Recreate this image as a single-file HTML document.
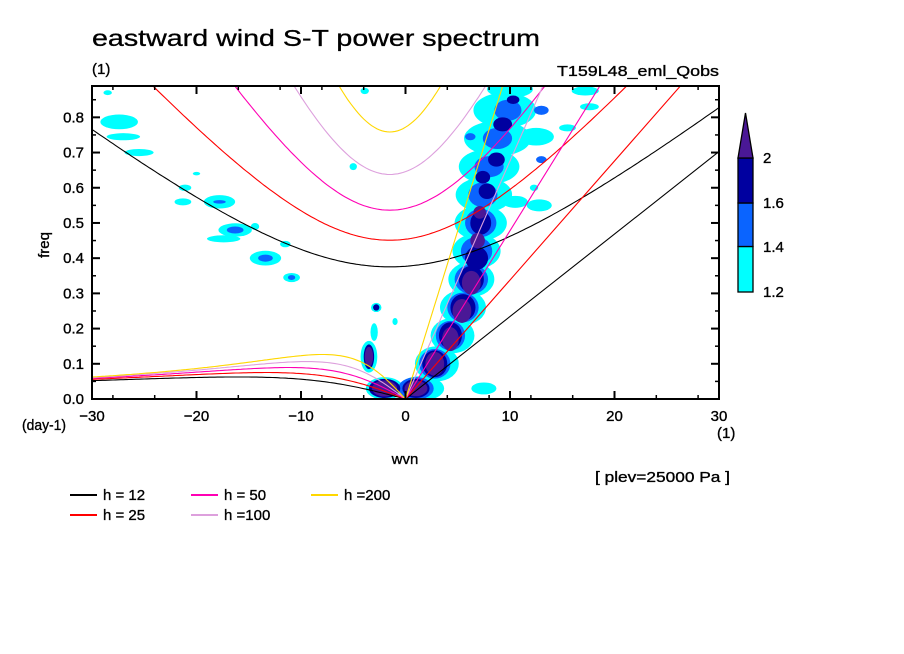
<!DOCTYPE html>
<html><head><meta charset="utf-8">
<style>
html,body{margin:0;padding:0;background:#fff;}
svg{display:block;font-family:"Liberation Sans",sans-serif;}
.t{font-size:15px;fill:#000;stroke:#000;stroke-width:0.35;}
</style></head>
<body>
<svg id="chart" width="904" height="654" viewBox="0 0 904 654" xmlns="http://www.w3.org/2000/svg">
<rect width="904" height="654" fill="#fff"/>
<text x="92" y="46" font-size="23" textLength="448" lengthAdjust="spacingAndGlyphs" fill="#000" stroke="#000" stroke-width="0.3">eastward wind S-T power spectrum</text>
<text class="t" x="92" y="74">(1)</text>
<text class="t" x="719" y="76" text-anchor="end" textLength="162" lengthAdjust="spacingAndGlyphs">T159L48_eml_Qobs</text>
<defs><clipPath id="plotclip"><rect x="92" y="86" width="627" height="313"/></clipPath></defs>
<g id="blobs" clip-path="url(#plotclip)"></g>
<g id="curves" clip-path="url(#plotclip)"></g>
<g id="axes"></g>
<text class="t" font-size="17" transform="translate(49,245) rotate(-90)" text-anchor="middle">freq</text>
<text class="t" x="22" y="430" textLength="44" lengthAdjust="spacingAndGlyphs">(day-1)</text>
<text class="t" x="717" y="438">(1)</text>
<text class="t" font-size="17" x="405" y="464" text-anchor="middle">wvn</text>
<text class="t" font-size="13" x="595" y="482" textLength="135" lengthAdjust="spacingAndGlyphs">[ plev=25000 Pa ]</text>
<g id="legend"></g>
<g id="colorbar"></g>
</svg>
<script>
const NS="http://www.w3.org/2000/svg";
// ---- data ----
const xTicks=[-30,-20,-10,0,10,20,30];
const yTicks=[0.0,0.1,0.2,0.3,0.4,0.5,0.6,0.7,0.8];
const yTickLabels=["0.0","0.1","0.2","0.3","0.4","0.5","0.6","0.7","0.8"];
const depths=[12,25,50,100,200];
const depthColors=["#000000","#ff0000","#ff00b4","#dda0dd","#ffd700"];
const depthLabels=["h = 12","h = 25","h = 50","h =100","h =200"];
const levelColors=["#00ffff","#0a64ff","#0000a0","#4a1896"];
const levelLabels=["1.2","1.4","1.6","2"];
// blob data: wavenumber, frequency, half-width (wvn), half-height (freq), level
const blobK=[1.5,3,4.5,5.5,6.3,6.8,7.2,7.5,8,8.8,9.5,10,12.5,12.8,10.5,15.5,17.6,17.2,12.3,7.5,
 -2,-3.5,-3,-2.8,-1,-27.4,-27,-25.5,-17.8,-16.3,-13.4,-10.9,-17.4,-21.1,-21.3,-14.4,-11.5,-5,-3.9,-28.5,-20,
 1,2.8,4.3,5.5,6.3,6.8,7.2,7.4,8,8.8,9.8,13,13,6.2,-17.8,-16.3,-13.4,-10.9,
 1,2.8,4.3,5.5,6.3,6.8,7.2,7.8,7.4,8.7,9.3,10.3,-2,-3.5,-2.8,
 1,2.8,4.3,5.4,6.3,6.9,7.1,-2,-3.5];
const blobF=[0.03,0.1,0.18,0.26,0.34,0.42,0.5,0.58,0.66,0.74,0.82,0.88,0.745,0.55,0.56,0.77,0.83,0.875,0.6,0.03,
 0.03,0.12,0.19,0.26,0.22,0.787,0.745,0.70,0.56,0.48,0.40,0.345,0.455,0.60,0.56,0.49,0.44,0.66,0.875,0.87,0.64,
 0.03,0.1,0.18,0.26,0.34,0.42,0.5,0.58,0.66,0.74,0.82,0.82,0.68,0.745,0.56,0.48,0.40,0.345,
 0.03,0.1,0.18,0.26,0.34,0.4,0.5,0.59,0.63,0.68,0.78,0.85,0.03,0.12,0.26,
 0.03,0.1,0.17,0.25,0.33,0.45,0.53,0.03,0.12];
const blobRx=[2.2,2.1,2.1,2.2,2.2,2.3,2.5,2.7,2.9,3.2,3,2.2,1.7,1.2,1.2,0.8,0.9,1.3,0.4,1.2,
 1.8,0.8,0.35,0.5,0.25,1.8,1.6,1.4,1.5,1.6,1.5,0.8,1.6,0.6,0.8,0.4,0.5,0.35,0.4,0.4,0.35,
 1.7,1.5,1.4,1.5,1.6,1.5,1.5,1.4,1.4,1.4,1.3,0.7,0.5,0.5,0.6,0.8,0.7,0.35,
 1.3,1.2,1.1,1.2,1.2,1.1,1.0,0.8,0.7,0.8,0.9,0.6,1.5,0.5,0.3,
 1.1,0.9,0.8,0.9,0.9,0.7,0.6,1.2,0.4];
const blobRy=[0.035,0.05,0.05,0.05,0.05,0.05,0.05,0.05,0.05,0.05,0.05,0.025,0.025,0.017,0.017,0.01,0.01,0.013,0.009,0.017,
 0.032,0.045,0.025,0.013,0.01,0.021,0.01,0.01,0.019,0.019,0.021,0.013,0.01,0.009,0.01,0.01,0.009,0.01,0.009,0.007,0.005,
 0.032,0.042,0.042,0.042,0.042,0.04,0.04,0.035,0.03,0.03,0.03,0.013,0.01,0.01,0.005,0.01,0.01,0.007,
 0.027,0.038,0.038,0.038,0.038,0.033,0.033,0.022,0.018,0.02,0.02,0.012,0.027,0.035,0.009,
 0.022,0.034,0.034,0.034,0.034,0.022,0.018,0.023,0.028];
const blobLevel=[1,1,1,1,1,1,1,1,1,1,1,1,1,1,1,1,1,1,1,1,
 1,1,1,1,1,1,1,1,1,1,1,1,1,1,1,1,1,1,1,1,1,
 2,2,2,2,2,2,2,2,2,2,2,2,2,2,2,2,2,2,
 3,3,3,3,3,3,3,3,3,3,3,3,3,3,3,
 4,4,4,4,4,4,4,4,4];
// ---- scales ----
const X0=92,X1=719,Y0=399,Y1=86;
const kMin=-30,kMax=30,fMin=0,fMax=0.889;
function xs(k){return X0+(k-kMin)/(kMax-kMin)*(X1-X0);}
function ys(f){return Y0-(f-fMin)/(fMax-fMin)*(Y0-Y1);}
function mk(tag,parent){const e=document.createElementNS(NS,tag);parent.appendChild(e);return e;}
// ---- blobs ----
const gB=document.getElementById('blobs');
for(let lv=1;lv<=4;lv++){
 for(let i=0;i<blobK.length;i++){
  if(blobLevel[i]!==lv)continue;
  const e=mk('ellipse',gB);
  
  
  e.setAttribute('cx',xs(blobK[i]));e.setAttribute('cy',ys(blobF[i]));
  e.setAttribute('rx',Math.abs(xs(blobRx[i])-xs(0)));
  e.setAttribute('ry',Math.abs(ys(0)-ys(blobRy[i])));
  e.setAttribute('fill',levelColors[lv-1]);
 }
}
// ---- dispersion curves ----
const g=9.81,Re=6.371e6,beta=2*7.292e-5/Re,dayF=86400/(2*Math.PI);
const gC=document.getElementById('curves');
function poly(pts,color,name){
 const p=mk('polyline',gC);
 
 
 p.setAttribute('points',pts.map(q=>q[0].toFixed(1)+','+q[1].toFixed(1)).join(' '));
 p.setAttribute('fill','none');p.setAttribute('stroke',color);p.setAttribute('stroke-width','1.1');
}
depths.forEach((h,i)=>{
 const c=Math.sqrt(g*h), sc=Math.sqrt(beta*c), L=Math.sqrt(c/beta);
 const slope=c*dayF/Re;
 poly([[xs(0),ys(0)],[xs(30),ys(30*slope)]],depthColors[i],'kelvin-h'+h);
 const f0=Math.sqrt(3)*sc*dayF, pts=[];
 for(let k=-30;k<=30.01;k+=0.25){pts.push([xs(k),ys(Math.sqrt(f0*f0+Math.pow(slope*(k+1.5),2)))]);}
 poly(pts,depthColors[i],'ig-h'+h);
 const rp=[];
 for(let k=-30;k<=0.001;k+=0.25){const kh=k*L/Re;rp.push([xs(k),ys(-kh/(kh*kh+3)*sc*dayF)]);}
 poly(rp,depthColors[i],'rossby-h'+h);
});
// ---- axes ----
const gA=document.getElementById('axes');
const fr=mk('rect',gA);

fr.setAttribute('x',X0);fr.setAttribute('y',Y1);fr.setAttribute('width',X1-X0);fr.setAttribute('height',Y0-Y1);
fr.setAttribute('fill','none');fr.setAttribute('stroke','#000');fr.setAttribute('stroke-width','2');
function line(x1,y1,x2,y2,w){const l=mk('line',gA);l.setAttribute('x1',x1);l.setAttribute('y1',y1);l.setAttribute('x2',x2);l.setAttribute('y2',y2);l.setAttribute('stroke','#000');l.setAttribute('stroke-width',w||1.5);return l;}
for(let k=-28;k<=28;k+=4){const x=xs(k);line(x,Y0,x,Y0-4);line(x,Y1,x,Y1+4);}
xTicks.forEach(k=>{const x=xs(k);line(x,Y0,x,Y0-8,2);line(x,Y1,x,Y1+8,2);
 const t=mk('text',gA);
 t.setAttribute('class','t');t.setAttribute('x',x);t.setAttribute('y',421);t.setAttribute('text-anchor','middle');
 t.textContent=(k<0?'\u2212'+(-k):String(k));});
for(let f=0.05;f<0.89;f+=0.1){const y=ys(f);line(X0,y,X0+4,y);line(X1,y,X1-4,y);}
yTicks.forEach((f,i)=>{const y=ys(f);line(X0,y,X0+8,y,2);line(X1,y,X1-8,y,2);
 const t=mk('text',gA);
 t.setAttribute('class','t');t.setAttribute('x',84);t.setAttribute('y',y+5);t.setAttribute('text-anchor','end');
 t.textContent=yTickLabels[i];});
// ---- legend ----
const gL=document.getElementById('legend');
depths.forEach((h,i)=>{
 const px=[70,70,191,191,311][i], py=[495,515,495,515,495][i];
 const l=mk('line',gL);
 l.setAttribute('x1',px);l.setAttribute('x2',px+27);l.setAttribute('y1',py);l.setAttribute('y2',py);
 l.setAttribute('stroke',depthColors[i]);l.setAttribute('stroke-width','2');
 const t=mk('text',gL);
 t.setAttribute('class','t');t.setAttribute('x',px+33);t.setAttribute('y',py+5);t.textContent=depthLabels[i];
});
// ---- colorbar ----
const gCb=document.getElementById('colorbar');
const cbY=[292,246.5,203,158];
for(let i=0;i<3;i++){
 const r=mk('rect',gCb);
 r.setAttribute('x',738);r.setAttribute('y',cbY[i+1]);r.setAttribute('width',15);r.setAttribute('height',cbY[i]-cbY[i+1]);
 r.setAttribute('fill',levelColors[i]);r.setAttribute('stroke','#000');r.setAttribute('stroke-width','1.3');
}
const tri=mk('polygon',gCb);
tri.setAttribute('points','738,158 753,158 745.5,113');tri.setAttribute('fill',levelColors[3]);tri.setAttribute('stroke','#000');tri.setAttribute('stroke-width','1.3');
for(let i=0;i<4;i++){
 const t=mk('text',gCb);
 t.setAttribute('class','t');t.setAttribute('x',763);t.setAttribute('y',[297,252,208,163][i]);t.textContent=levelLabels[i];
}
</script>
</body></html>
